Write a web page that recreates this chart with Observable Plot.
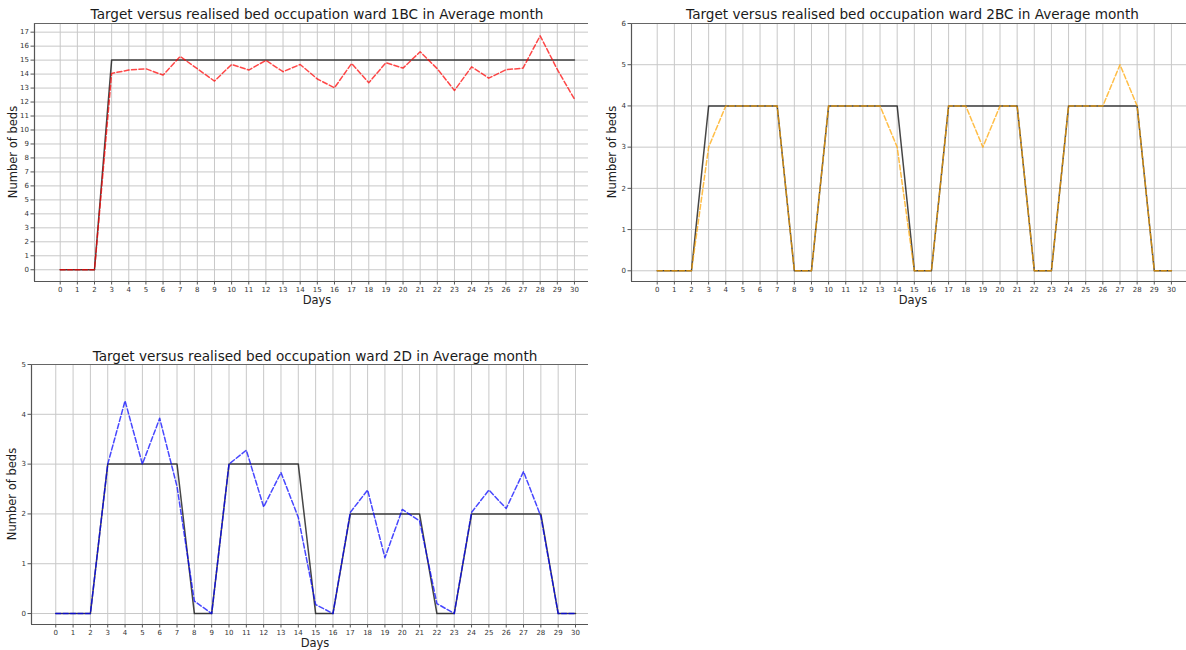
<!DOCTYPE html>
<html><head><meta charset="utf-8">
<script src="https://cdn.jsdelivr.net/npm/d3@7"></script>
<script src="https://cdn.jsdelivr.net/npm/@observablehq/plot@0.6"></script>
<style>
body{margin:0;background:#fff;font-family:"DejaVu Sans",sans-serif;}
#root{position:relative;width:1186px;height:650px;overflow:hidden;background:#fff;}
.panel{position:absolute;}
#overlay{position:absolute;left:0;top:0;pointer-events:none;}
</style></head><body><div id="root"></div>
<script>
// ---- data ----
const days = [0,1,2,3,4,5,6,7,8,9,10,11,12,13,14,15,16,17,18,19,20,21,22,23,24,25,26,27,28,29,30];

const target1BC = [0,0,0,15,15,15,15,15,15,15,15,15,15,15,15,15,15,15,15,15,15,15,15,15,15,15,15,15,15,15,15];
const realised1BC = [0,0,0,14.05,14.29,14.38,13.93,15.26,14.38,13.5,14.69,14.29,14.98,14.17,14.69,13.65,13.02,14.76,13.38,14.81,14.43,15.6,14.38,12.83,14.52,13.71,14.31,14.43,16.74,14.33,12.21];

const target2BC = [0,0,0,4,4,4,4,4,0,0,4,4,4,4,4,0,0,4,4,4,4,4,0,0,4,4,4,4,4,0,0];
const realised2BC = [0,0,0,3,4,4,4,4,0,0,4,4,4,4,3,0,0,4,4,3,4,4,0,0,4,4,4,5,4,0,0];

const target2D = [0,0,0,3,3,3,3,3,0,0,3,3,3,3,3,0,0,2,2,2,2,2,0,0,2,2,2,2,2,0,0];
const realised2D = [0,0,0,3,4.27,3,3.92,2.55,0.25,0,3,3.28,2.14,2.83,1.93,0.18,0,2.03,2.48,1.12,2.09,1.86,0.2,0,2.03,2.48,2.11,2.85,1.95,0,0];

const ticks1BC = [0,1,2,3,4,5,6,7,8,9,10,11,12,13,14,15,16,17];
const ticks2BC = [0,1,2,3,4,5,6];
const ticks2D = [0,1,2,3,4,5];

const titles = [
  "Target versus realised bed occupation ward 1BC in Average month",
  "Target versus realised bed occupation ward 2BC in Average month",
  "Target versus realised bed occupation ward 2D in Average month"
];
const xLabel = "Days";
const yLabel = "Number of beds";

// ---- drawing ----
const root = document.getElementById("root");
const intFmt = d => String(d);

function panel(o) {
  const rows = days.map((d, i) => ({day: d, target: o.target[i], realised: o.realised[i]}));
  const chart = Plot.plot({
    width: o.width, height: o.height,
    marginLeft: o.ml, marginRight: o.mr, marginTop: o.mt, marginBottom: o.mb,
    style: {fontFamily: "DejaVu Sans", color: "#333", background: "transparent", overflow: "visible"},
    x: {domain: o.xDomain},
    y: {domain: o.yDomain},
    marks: [
      Plot.gridX(days, {stroke: "#c8c8c8", strokeOpacity: 1, strokeWidth: 1}),
      Plot.gridY(o.yTicks, {stroke: "#c8c8c8", strokeOpacity: 1, strokeWidth: 1}),
      Plot.ruleX([o.xDomain[0]], {stroke: "#555", strokeWidth: 1.2}),
      Plot.ruleY([o.yDomain[0]], {stroke: "#555", strokeWidth: 1.2}),
      Plot.ruleY([o.yDomain[1]], {stroke: "#666", strokeWidth: 1}),
      Plot.axisX(days, {tickSize: 3.5, tickPadding: 2, fontSize: 7, label: null, stroke: "#555", tickFormat: intFmt}),
      Plot.axisY(o.yTicks, {tickSize: 3.5, tickPadding: 2, fontSize: 7, label: null, stroke: "#555", tickFormat: intFmt}),
      Plot.line(rows, {x: "day", y: "target", stroke: "#000", strokeOpacity: 0.72, strokeWidth: 1.5}),
      Plot.line(rows, {x: "day", y: "realised", stroke: o.color, strokeOpacity: 0.72, strokeWidth: 1.5, strokeDasharray: "5,2.4"})
    ]
  });
  const div = document.createElement("div");
  div.className = "panel";
  div.style.left = o.left + "px";
  div.style.top = o.top + "px";
  div.appendChild(chart);
  root.appendChild(div);
}

panel({left: 0, top: 0, width: 600, height: 300, ml: 34, mr: 12, mt: 23, mb: 19,
  xDomain: [-1.5, 30.82], yDomain: [-0.84, 17.62], yTicks: ticks1BC,
  target: target1BC, realised: realised1BC, color: "red"});

panel({left: 600, top: 0, width: 586, height: 300, ml: 31, mr: 0, mt: 23, mb: 19,
  xDomain: [-1.5, 30.88], yDomain: [-0.26, 6], yTicks: ticks2BC,
  target: target2BC, realised: realised2BC, color: "orange"});

panel({left: 0, top: 340, width: 600, height: 300, ml: 31, mr: 12, mt: 24, mb: 16,
  xDomain: [-1.4, 30.75], yDomain: [-0.22, 5.0], yTicks: ticks2D,
  target: target2D, realised: realised2D, color: "blue"});

// ---- text overlay ----
const svg = d3.select(root).append("svg").attr("id", "overlay")
  .attr("width", 1186).attr("height", 650)
  .style("font-family", "DejaVu Sans");

const titlePos = [[317, 19], [912.5, 19], [315, 361]];
titles.forEach((t, i) => {
  svg.append("text").attr("x", titlePos[i][0]).attr("y", titlePos[i][1])
    .attr("text-anchor", "middle").attr("font-size", 13.6).attr("fill", "#1a1a1a").text(t);
});
const xLabPos = [[317, 300], [913, 300], [315, 643]];
xLabPos.forEach(p => {
  svg.append("text").attr("x", p[0]).attr("y", p[1]).attr("text-anchor", "middle")
    .attr("dominant-baseline", "central").attr("font-size", 11.5).attr("fill", "#222").text(xLabel);
});
const yLabPos = [[13, 152], [612, 152], [12, 494]];
yLabPos.forEach(p => {
  svg.append("text").attr("transform", `translate(${p[0]},${p[1]}) rotate(-90)`)
    .attr("text-anchor", "middle").attr("dominant-baseline", "central")
    .attr("font-size", 11.5).attr("fill", "#222").text(yLabel);
});
</script>
</body></html>
